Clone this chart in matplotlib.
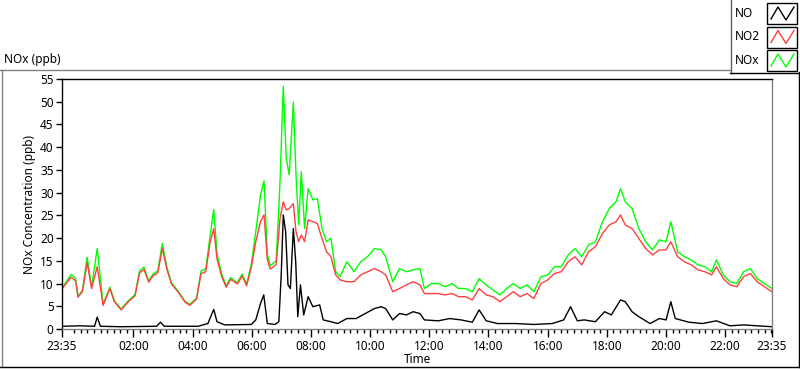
import matplotlib.pyplot as plt
from matplotlib.lines import Line2D
from matplotlib.patches import Rectangle
import numpy as np

plt.rcParams['font.family'] = ['Noto Sans', 'DejaVu Sans']

# ----------------------------
# Data (hours after 23:35, ppb)
# ----------------------------
t_nox = [0.0, 0.31, 0.46, 0.54, 0.69, 0.85, 1.0, 1.19, 1.39, 1.62, 1.77, 2.0, 2.24, 2.47,
         2.62, 2.77, 2.93, 3.08, 3.24, 3.39, 3.55, 3.7, 3.93, 4.16, 4.32, 4.55, 4.7, 4.86,
         5.01, 5.13, 5.24, 5.4, 5.55, 5.7, 5.93, 6.09, 6.24, 6.4, 6.55, 6.71, 6.83, 6.94,
         7.04, 7.24, 7.37, 7.48, 7.58, 7.68, 7.82, 7.91, 8.0, 8.09, 8.2, 8.32, 8.48, 8.63,
         8.79, 8.94, 9.09, 9.25, 9.4, 9.63, 9.87, 10.1, 10.33, 10.56, 10.79, 10.94, 11.18,
         11.41, 11.64, 11.87, 12.1, 12.25, 12.49, 12.72, 12.95, 13.18, 13.41, 13.64, 13.87,
         14.1, 14.34, 14.57, 14.8, 15.03, 15.26, 15.49, 15.72, 15.95, 16.19, 16.42, 16.65,
         16.88, 17.11, 17.34, 17.57, 17.8, 18.03, 18.27, 18.5, 18.73, 18.88, 19.04, 19.27,
         19.5, 19.73, 19.96, 20.19, 20.42, 20.58, 20.81, 21.04, 21.27, 21.5, 21.73, 21.96,
         22.12, 22.35, 22.58, 22.81, 23.04, 23.27, 23.5, 23.74, 24.0]

nox = [9.0, 12.0, 11.2, 7.2, 8.5, 15.8, 9.2, 17.7, 5.5, 9.2, 6.2, 4.4, 6.2, 7.6,
       12.8, 13.6, 10.6, 12.1, 12.8, 18.8, 13.5, 10.2, 8.3, 6.1, 5.4, 6.8, 12.8, 13.2,
       20.7, 26.3, 16.5, 12.1, 9.5, 11.3, 10.2, 12.1, 9.9, 14.3, 21.4, 29.5, 32.6, 16.5,
       13.9, 15.0, 32.4, 53.4, 37.5, 33.9, 49.9, 33.9, 22.9, 34.6, 22.1, 30.9, 28.4, 28.7,
       22.1, 19.2, 20.0, 12.6, 11.5, 14.8, 12.6, 14.8, 15.9, 17.7, 17.4, 15.9, 10.4,
       13.3, 12.6, 13.0, 13.3, 8.9, 10.0, 10.0, 9.3, 10.0, 8.9, 8.9, 8.2,
       11.1, 9.7, 8.6, 7.5, 8.9, 10.0, 8.9, 9.7, 8.2, 11.5, 11.9, 13.7,
       13.7, 16.3, 17.7, 15.9, 18.5, 19.2, 23.6, 26.5, 28.0, 30.9, 28.0, 26.5,
       22.1, 19.2, 17.4, 19.6, 19.2, 23.6, 17.0, 15.9, 15.2, 14.1, 13.7, 12.6,
       15.2, 11.9, 10.4, 10.0, 12.6, 13.3, 11.1, 10.0, 8.9]

no2 = [8.8, 11.4, 10.6, 7.0, 8.2, 14.6, 8.9, 13.7, 5.2, 8.9, 6.0, 4.2, 6.0, 7.3,
       12.3, 13.1, 10.3, 11.7, 12.4, 17.7, 13.0, 9.9, 8.1, 5.9, 5.2, 6.6, 12.2, 12.6,
       19.2, 22.1, 15.4, 11.5, 9.2, 10.9, 9.9, 11.7, 9.5, 13.6, 19.2, 23.6, 25.1, 15.3,
       13.2, 14.2, 24.3, 28.0, 26.2, 26.5, 27.6, 21.4, 19.2, 20.7, 19.2, 24.0, 23.6, 23.2,
       19.9, 17.0, 15.9, 11.9, 10.8, 10.4, 10.4, 11.9, 12.6, 13.3, 12.6, 11.9, 8.2,
       8.9, 9.7, 10.4, 9.7, 7.8, 7.8, 7.8, 7.5, 7.8, 7.1, 7.1, 6.4,
       8.9, 7.5, 7.1, 6.0, 7.1, 8.2, 7.1, 7.8, 6.7, 10.0, 10.8, 12.2,
       12.6, 14.8, 15.9, 14.1, 17.0, 18.1, 21.0, 22.9, 23.6, 25.1, 22.9, 22.1,
       19.9, 17.7, 16.3, 17.4, 17.4, 19.2, 15.9, 14.8, 14.1, 13.0, 12.6, 11.9,
       13.7, 11.1, 9.7, 9.3, 11.5, 12.2, 10.4, 9.3, 8.2]

t_no = [0.0, 0.6, 1.1, 1.19, 1.3, 2.0, 3.2, 3.33, 3.45, 4.6, 4.93, 5.13, 5.24, 5.5,
        6.4, 6.55, 6.71, 6.82, 6.94, 7.2, 7.33, 7.41, 7.48, 7.56, 7.64, 7.72, 7.82,
        7.9, 7.97, 8.06, 8.17, 8.32, 8.48, 8.71, 8.83, 9.09, 9.32, 9.63, 9.94, 10.25,
        10.56, 10.79, 10.94, 11.18, 11.41, 11.64, 11.87, 12.1, 12.25, 12.72, 13.1, 13.49,
        13.87, 14.1, 14.34, 14.72, 15.34, 15.95, 16.57, 16.96, 17.19, 17.42, 17.65, 18.03,
        18.34, 18.57, 18.88, 19.04, 19.27, 19.5, 19.88, 20.19, 20.42, 20.58, 20.73, 21.19,
        21.65, 22.12, 22.58, 23.04, 23.5, 24.0]

no = [0.6, 0.7, 0.6, 2.6, 0.6, 0.5, 0.6, 1.5, 0.6, 0.6, 1.2, 4.3, 1.6, 0.9,
      1.0, 2.0, 5.6, 7.5, 1.2, 1.0, 1.6, 11.9, 25.1, 21.4, 9.7, 8.9, 22.1,
      14.8, 2.7, 9.7, 3.1, 7.1, 4.9, 5.3, 2.0, 1.6, 1.2, 2.3, 2.3, 3.4,
      4.5, 4.9, 4.5, 2.0, 3.4, 3.1, 3.8, 3.4, 2.0, 1.8, 2.3, 2.0,
      1.5, 4.2, 1.8, 1.2, 1.2, 1.0, 1.2, 2.0, 4.9, 1.8, 2.0, 1.6,
      3.8, 3.1, 6.4, 6.0, 3.8, 2.7, 1.2, 2.3, 2.0, 6.0, 2.3, 1.5,
      1.2, 1.8, 0.7, 0.9, 0.7, 0.5]

tick_labels = ['23:35', '02:00', '04:00', '06:00', '08:00', '10:00', '12:00',
               '14:00', '16:00', '18:00', '20:00', '22:00', '23:35']
major_ticks = [0.0] + [2.0 + 25 / 60 + 2 * i for i in range(11)] + [24.0]
minor_ticks = [m for m in np.arange(2.0 + 25 / 60 - 2 * 9 / 9, 24.01, 2 / 9) if 0 <= m <= 24]

# ----------------------------
# Figure
# ----------------------------
fig = plt.figure(figsize=(8, 3.69), dpi=100)
W, H = 800, 369

def fx(px):
    return px / W

def fy(py):
    return 1 - py / H

ax = fig.add_axes([fx(62), fy(329), fx(772) - fx(62), fy(79) - fy(329)])

ax.plot(t_nox, nox, color='#00ff00', lw=1.0)
ax.plot(t_nox, no2, color='#ff4040', lw=1.0)
ax.plot(t_no, no, color='black', lw=1.0)

ax.set_xlim(0, 24)
ax.set_ylim(0, 55)
ax.set_yticks(range(0, 56, 5))
ax.set_xticks(major_ticks)
ax.set_xticklabels(tick_labels)
ax.set_xticks(minor_ticks, minor=True)
ax.tick_params(axis='y', direction='out', length=4, width=1, labelsize=8.5, pad=2)
ax.tick_params(axis='x', which='major', direction='out', length=6, width=1, labelsize=8.5, pad=2)
ax.tick_params(axis='x', which='minor', direction='out', length=3, width=1)
ax.spines['left'].set_color('black')
ax.spines['top'].set_color('black')
ax.spines['right'].set_color('#808080')
ax.spines['bottom'].set_color('#808080')
for s in ax.spines.values():
    s.set_linewidth(1)

ax.set_ylabel('NOx Concentration (ppb)', fontsize=8.5, labelpad=3)
ax.set_xlabel('Time', fontsize=8.5, labelpad=0)

# panel frame
fig.add_artist(Line2D([fx(0), fx(730)], [fy(69.5), fy(69.5)], color='#808080', lw=1))
fig.add_artist(Line2D([fx(1.5), fx(1.5)], [fy(69.5), fy(366)], color='#808080', lw=1))
fig.add_artist(Line2D([fx(0), fx(800)], [fy(366.5), fy(366.5)], color='black', lw=1))
fig.add_artist(Line2D([fx(798.5), fx(798.5)], [fy(72), fy(367)], color='black', lw=1))
fig.text(fx(4), fy(59), 'NOx (ppb)', fontsize=8.5, va='center', ha='left')

# legend box
fig.add_artist(Line2D([fx(730.5), fx(730.5)], [fy(0), fy(72.5)], color='#606060', lw=1))
fig.add_artist(Line2D([fx(730), fx(800)], [fy(72.5), fy(72.5)], color='black', lw=1))
legend_names = ['NO', 'NO2', 'NOx']
legend_colors = ['black', '#ff4040', '#00ff00']
for i, (name, col) in enumerate(zip(legend_names, legend_colors)):
    top = 3 + i * 23.5
    bot = top + 21
    fig.text(fx(735), fy((top + bot) / 2), name, fontsize=8.5, va='center', ha='left')
    fig.add_artist(Rectangle((fx(767), fy(bot)), fx(30), fy(top) - fy(bot),
                             fill=False, edgecolor='black', lw=1, transform=fig.transFigure))
    zx = [771, 778, 786, 794]
    zy = [bot - 5, top + 4, bot - 4, top + 4]
    fig.add_artist(Line2D([fx(v) for v in zx], [fy(v) for v in zy], color=col, lw=1))

fig.savefig('out.png', dpi=100)
